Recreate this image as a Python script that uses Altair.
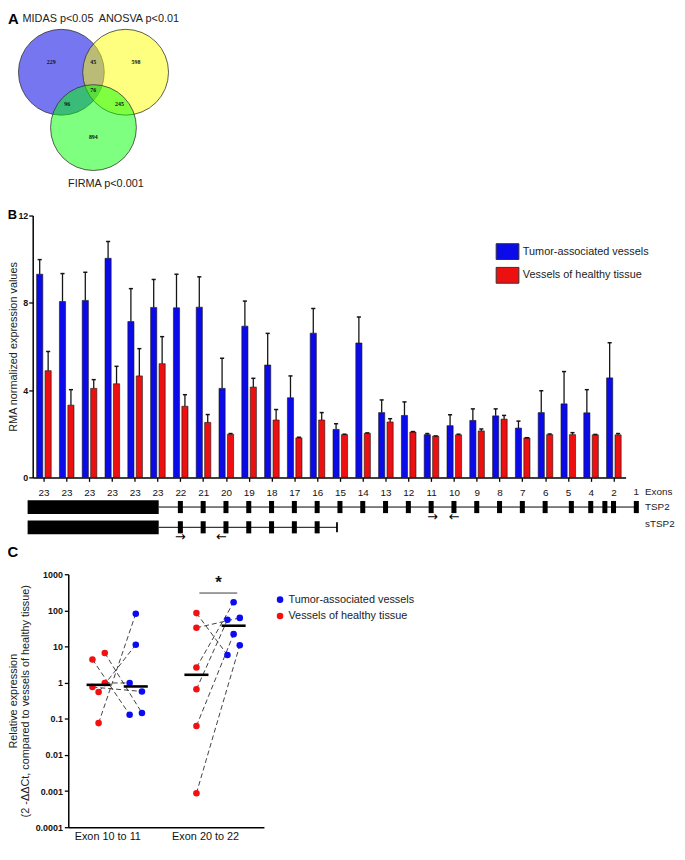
import altair as alt
import pandas as pd

W = 677
H = 838
FONT = "Liberation Sans"
T = "Tumor-associated vessels"
HV = "Vessels of healthy tissue"

# ---------------- Panel A : Venn ----------------
venn_names = ["MIDAS p<0.05", "ANOSVA p<0.01", "FIRMA p<0.001"]
venn_cx = [0.0, 1.327, 0.663]
venn_cy = [0.0, 0.0, -1.143]
venn_fill = ["#1A1AE6", "#FFFF00", "#00FF00"]
venn_opacity = [0.6, 0.5, 0.5]
venn_label_x = [-0.07, 1.6, 0.92]
venn_label_y = [1.1, 1.1, -2.31]
venn_counts = ["229", "45", "598", "76", "96", "245", "894"]
venn_count_x = [-0.21, 0.66, 1.54, 0.66, 0.12, 1.2, 0.66]
venn_count_y = [0.21, 0.21, 0.21, -0.37, -0.66, -0.66, -1.34]

# ---------------- Panel B : bars ----------------
exon_labels = ["23", "23", "23", "23", "23", "23", "22", "21", "20", "19", "18", "17", "16",
               "15", "14", "13", "12", "11", "10", "9", "8", "7", "6", "5", "4", "2"]
tumor_mean = [9.31, 8.06, 8.11, 10.04, 7.14, 7.79, 7.77, 7.80, 4.08, 6.93, 5.15, 3.65, 6.61,
              2.20, 6.16, 2.97, 2.84, 1.96, 2.37, 2.61, 2.82, 2.26, 2.97, 3.37, 2.96, 4.56]
tumor_err = [9.98, 9.34, 9.40, 10.81, 8.65, 9.07, 9.31, 9.19, 5.46, 8.08, 6.60, 4.65, 7.74,
             2.46, 7.35, 3.55, 3.46, 2.01, 2.87, 3.14, 3.14, 2.58, 3.97, 4.85, 4.02, 6.17]
healthy_mean = [4.89, 3.31, 4.08, 4.29, 4.65, 5.21, 3.26, 2.52, 1.98, 4.14, 2.63, 1.81, 2.63,
                1.96, 2.02, 2.54, 2.08, 1.89, 1.95, 2.13, 2.67, 1.81, 1.96, 1.96, 1.95, 1.95]
healthy_err = [5.77, 4.02, 4.48, 5.09, 5.90, 6.45, 3.79, 2.88, 2.01, 4.54, 3.11, 1.84, 2.97,
               1.98, 2.04, 2.69, 2.10, 1.90, 1.98, 2.22, 2.84, 1.82, 1.99, 2.05, 1.97, 2.01]

# gene structure (positions in exon-slot units of the bar axis)
gene_rows = ["TSP2", "sTSP2"]
big_exon = [-0.7, 5.05]
gene_line_end = [26.0, 12.87]
tsp2_exons = [6, 7, 8, 9, 10, 11, 12, 13, 14, 15, 16, 17, 18, 19, 20, 21, 22,
              23.15, 24.0, 24.62, 25.0, 26.0]
stsp2_exons = [6, 7, 8, 9, 10, 11, 12]
arrow_text = ["→", "←", "→", "←"]
arrow_x = [17.06, 18.01, 6.0, 7.8]
arrow_row = [0.5, 0.5, 1.5, 1.5]

# ---------------- Panel C : qPCR ----------------
c_groups = ["Exon 10 to 11", "Exon 20 to 22"]
red_g0 = [4.4, 6.6, 0.755, 0.55, 0.98, 0.076]
red_g0_jit = [-1, 1, -1, 0, 1, 0]
blue_g0 = [0.13, 0.145, 0.57, 11.2, 0.98, 81]
blue_g0_jit = [-1, 1, 1, 0, -1, 0]
red_g1 = [84, 33, 2.63, 0.655, 0.063, 0.00087]
red_g1_jit = [0, 0, 0, 0, 0, 0]
blue_g1 = [5.8, 62, 167, 55, 22, 10.8]
blue_g1_jit = [-1, 1, 0, -1, 0, 1]
median_red = [0.87, 1.65]
median_blue = [0.785, 37.6]
c_yticks = [1000, 100, 10, 1, 0.1, 0.01, 0.001, 0.0001]

# ================= scales =================
xV = alt.Scale(domain=[-1, 3], range=[5, 201], nice=False, zero=False)
yV = alt.Scale(domain=[-3, 1.5], range=[207, -13.5], nice=False, zero=False)
xB = alt.Scale(domain=[-0.477, 25.53], range=[25, 625], nice=False, zero=False)
yB = alt.Scale(domain=[0, 12], range=[470, 205], nice=False, zero=False)
yG = alt.Scale(domain=[0, 1], range=[500, 520.5], nice=False, zero=False)
xC = alt.Scale(domain=[0, 2], range=[61, 259], nice=False, zero=False)
yC = alt.Scale(type="log", domain=[0.0001, 1000], range=[824, 568], nice=False)

colB = alt.Scale(domain=[T, HV], range=["#0B0BEA", "#EC1010"])
colC = alt.Scale(domain=[T, HV], range=["#0B0BF2", "#F21010"])

label_expr_B = "[" + ",".join("'%s'" % l for l in exon_labels) + "][datum.value]"
axisBx = alt.Axis(orient="bottom", offset=470 - H, values=list(range(26)), labelExpr=label_expr_B,
                  tickSize=4, tickWidth=1.3, labelFontSize=10, labelPadding=6, labelFlush=False,
                  labelOverlap=False, domainWidth=1.5, title=None, grid=False)
axisBy = alt.Axis(orient="left", offset=-25, values=[0, 4, 8, 12], format="d", labelFontSize=9,
                  labelFontWeight="bold", tickSize=4, tickWidth=1.3, domainWidth=1.5, labelPadding=1,
                  grid=False, title="RMA normalized expression values", titleFontSize=11,
                  titleFontWeight="normal", titleX=-19, titleY=337.5, titleBaseline="middle")
label_expr_C = "[" + ",".join("'%s'" % g for g in c_groups) + "][floor(datum.value)]"
axisCx = alt.Axis(orient="bottom", offset=824 - H, values=[0.5, 1.5], labelExpr=label_expr_C,
                  ticks=False, labelFontSize=11, labelPadding=3, labelOffset=-10, labelFlush=False,
                  labelOverlap=False, domainWidth=1.5, title=None, grid=False)
axisCy = alt.Axis(orient="left", offset=-61, values=c_yticks, format="~g", labelFontSize=9,
                  labelFontWeight="bold", tickSize=4, tickWidth=1.3, domainWidth=1.5, labelPadding=2,
                  labelOverlap=False, grid=False,
                  title=["Relative expression", "(2 -ΔΔCt, compared to vessels of healthy tissue)"],
                  titleFontSize=11, titleFontWeight="normal", titleLineHeight=12,
                  titleX=-55, titleY=696, titleBaseline="middle")


def XV(f): return alt.X(f, type="quantitative", scale=xV, axis=None)
def YV(f): return alt.Y(f, type="quantitative", scale=yV, axis=None)
def XB(f): return alt.X(f, type="quantitative", scale=xB, axis=axisBx)
def YB(f): return alt.Y(f, type="quantitative", scale=yB, axis=axisBy)
def YG(f): return alt.Y(f, type="quantitative", scale=yG, axis=None)
def XC(f): return alt.X(f, type="quantitative", scale=xC, axis=axisCx)
def YC(f): return alt.Y(f, type="quantitative", scale=yC, axis=axisCy)


# ================= Panel A =================
df_circ = pd.DataFrame({"name": venn_names, "cx": venn_cx, "cy": venn_cy,
                        "fill": venn_fill, "op": venn_opacity})
circles = alt.Chart(df_circ).mark_circle(size=7543, opacity=1, stroke="#333333",
                                         strokeWidth=0.8, strokeOpacity=1).encode(
    x=XV("cx"), y=YV("cy"),
    color=alt.Color("fill:N", scale=None),
    fillOpacity=alt.FillOpacity("op:Q", scale=None))
df_vlab = pd.DataFrame({"name": venn_names, "x": venn_label_x, "y": venn_label_y})
venn_titles = alt.Chart(df_vlab).mark_text(fontSize=11, font=FONT, color="#222222").encode(
    x=XV("x"), y=YV("y"), text="name:N")
df_cnt = pd.DataFrame({"n": venn_counts, "x": venn_count_x, "y": venn_count_y})
venn_nums = alt.Chart(df_cnt).mark_text(fontSize=6, font="Liberation Serif", fontWeight="bold",
                                        color="#111111").encode(x=XV("x"), y=YV("y"), text="n:N")
df_A = pd.DataFrame({"t": ["A"], "x": [-0.99], "y": [1.1]})
letterA = alt.Chart(df_A).mark_text(fontSize=15, font=FONT, fontWeight="bold", color="black").encode(
    x=XV("x"), y=YV("y"), text="t:N")
panelA = alt.layer(circles, venn_titles, venn_nums, letterA)

# ================= Panel B =================
df_B = pd.DataFrame({"idx": list(range(26)) * 2, "series": [T] * 26 + [HV] * 26,
                     "mean": tumor_mean + healthy_mean, "err": tumor_err + healthy_err})
baseB = alt.Chart(df_B).transform_calculate(
    pos="datum.idx + (datum.series == '%s' ? -0.17 : 0.2)" % T,
    b0="datum.pos - 0.135", b1="datum.pos + 0.135",
    c0="datum.pos - 0.09", c1="datum.pos + 0.09")
bars = baseB.mark_bar(stroke="#141414", strokeWidth=0.6).encode(
    x=XB("b0"), x2="b1", y=YB("mean"), y2=alt.datum(0),
    color=alt.Color("series:N", scale=colB, sort=[T, HV],
                    legend=alt.Legend(orient="none", legendX=497, legendY=233, title=None,
                                      direction="vertical", padding=0,
                                      symbolType="M-1.4375,-1H1.4375V1H-1.4375Z", symbolSize=256,
                                      symbolStrokeColor="#333333", symbolStrokeWidth=1,
                                      symbolOpacity=1, labelFont=FONT, labelFontSize=11,
                                      labelOffset=7, rowPadding=3, labelColor="#222222")))
stems = baseB.mark_rule(color="#141414", strokeWidth=1.3).encode(x=XB("pos"), y=YB("mean"), y2="err")
caps = baseB.mark_rule(color="#141414", strokeWidth=1.5).encode(x=XB("c0"), x2="c1", y=YB("err"))
df_Bl = pd.DataFrame({"t": ["B"], "x": [-1.37], "y": [12.02]})
letterB = alt.Chart(df_Bl).mark_text(fontSize=13, font=FONT, fontWeight="bold", color="black").encode(
    x=XB("x"), y=YB("y"), text="t:N")
bar_part = alt.layer(bars, stems, caps, letterB)

df_lines = pd.DataFrame({"row": [0, 1], "x1": [big_exon[1]] * 2, "x2": gene_line_end})
g_lines = alt.Chart(df_lines).mark_rule(color="black", strokeWidth=1).encode(
    x=XB("x1"), x2="x2", y=YG("row"))
df_big = pd.DataFrame({"row": [0, 1], "x1": [big_exon[0]] * 2, "x2": [big_exon[1]] * 2})
g_big = alt.Chart(df_big).transform_calculate(y0="datum.row - 0.34", y1="datum.row + 0.34").mark_rect(
    color="black").encode(x=XB("x1"), x2="x2", y=YG("y0"), y2="y1")
df_ex = pd.DataFrame({"row": [0] * len(tsp2_exons) + [1] * len(stsp2_exons),
                      "p": tsp2_exons + stsp2_exons})
g_ex = alt.Chart(df_ex).transform_calculate(
    x0="datum.p - 0.11", x1="datum.p + 0.11", y0="datum.row - 0.3", y1="datum.row + 0.3").mark_rect(
    color="black").encode(x=XB("x0"), x2="x1", y=YG("y0"), y2="y1")
df_end = pd.DataFrame({"p": [gene_line_end[1]], "y0": [0.75], "y1": [1.25]})
g_end = alt.Chart(df_end).mark_rule(color="black", strokeWidth=1.8).encode(
    x=XB("p"), y=YG("y0"), y2="y1")
df_arr = pd.DataFrame({"t": arrow_text, "x": arrow_x, "row": arrow_row})
g_arr = alt.Chart(df_arr).mark_text(fontSize=13, font="DejaVu Sans", color="black").encode(
    x=XB("x"), y=YG("row"), text="t:N")
df_g1 = pd.DataFrame({"t": ["1"], "x": [26.0], "row": [-0.73]})
g_one = alt.Chart(df_g1).mark_text(fontSize=10, font=FONT, color="#222222").encode(
    x=XB("x"), y=YG("row"), text="t:N")
df_gl = pd.DataFrame({"t": ["Exons"] + gene_rows, "x": [26.38] * 3, "row": [-0.73, 0.0, 0.83]})
g_lab = alt.Chart(df_gl).mark_text(fontSize=10, font=FONT, align="left", color="#222222").encode(
    x=XB("x"), y=YG("row"), text="t:N")
gene_part = alt.layer(g_lines, g_big, g_ex, g_end, g_arr, g_one, g_lab)

panelB = alt.layer(bar_part, gene_part).resolve_scale(y="independent")

# ================= Panel C =================
n = len(red_g0)
df_pairs = pd.DataFrame({
    "group": [0] * n + [1] * n,
    "rv": red_g0 + red_g1, "rj": red_g0_jit + red_g1_jit,
    "bv": blue_g0 + blue_g1, "bj": blue_g0_jit + blue_g1_jit})
pair_lines = alt.Chart(df_pairs).transform_calculate(
    xr="datum.group + 0.5 - 0.19 + datum.rj * 0.063",
    xb="datum.group + 0.5 + 0.19 + datum.bj * 0.063").mark_rule(
    color="#111111", strokeWidth=0.8, strokeDash=[5, 3]).encode(
    x=XC("xr"), y=YC("rv"), x2="xb", y2="bv")

df_pts = pd.DataFrame({
    "group": [0] * n + [1] * n + [0] * n + [1] * n,
    "series": [HV] * (2 * n) + [T] * (2 * n),
    "v": red_g0 + red_g1 + blue_g0 + blue_g1,
    "j": red_g0_jit + red_g1_jit + blue_g0_jit + blue_g1_jit})
pts = alt.Chart(df_pts).transform_calculate(
    pos="datum.group + 0.5 + (datum.series == '%s' ? 0.19 : -0.19) + datum.j * 0.063" % T).mark_circle(
    size=44, opacity=1).encode(
    x=XC("pos"), y=YC("v"),
    color=alt.Color("series:N", scale=colC, sort=[T, HV],
                    legend=alt.Legend(orient="none", legendX=269.8, legendY=588.2, title=None,
                                      direction="vertical", padding=0, symbolType="circle",
                                      symbolSize=44, symbolStrokeWidth=0, symbolOpacity=1,
                                      labelFont=FONT, labelFontSize=11, labelOffset=3,
                                      rowPadding=4.6, labelColor="#222222")))
df_med = pd.DataFrame({"group": [0, 1, 0, 1], "series": [HV, HV, T, T],
                       "m": median_red + median_blue})
meds = alt.Chart(df_med).transform_calculate(
    pos="datum.group + 0.5 + (datum.series == '%s' ? 0.19 : -0.19)" % T,
    m0="datum.pos - 0.123", m1="datum.pos + 0.123").mark_rule(
    color="black", strokeWidth=2.6).encode(x=XC("m0"), x2="m1", y=YC("m"))
df_sig = pd.DataFrame({"x1": [1.34], "x2": [1.727], "y": [302]})
sig = alt.Chart(df_sig).mark_rule(color="#222222", strokeWidth=0.9).encode(
    x=XC("x1"), x2="x2", y=YC("y"))
df_star = pd.DataFrame({"t": ["*"], "x": [1.535], "y": [560]})
star = alt.Chart(df_star).mark_text(fontSize=17, font=FONT, fontWeight="bold", color="#111111").encode(
    x=XC("x"), y=YC("y"), text="t:N")
df_Cl = pd.DataFrame({"t": ["C"], "x": [-0.566], "y": [3990]})
letterC = alt.Chart(df_Cl).mark_text(fontSize=15, font=FONT, fontWeight="bold", color="black").encode(
    x=XC("x"), y=YC("y"), text="t:N")
panelC = alt.layer(pair_lines, pts, meds, sig, star, letterC)

chart = alt.layer(panelA, panelB, panelC).resolve_scale(
    x="independent", y="independent", color="independent"
).properties(
    width=W, height=H, padding=0, background="white",
    autosize=alt.AutoSizeParams(type="none")
).configure_view(stroke=None).configure_axis(
    labelFont=FONT, titleFont=FONT, domainColor="black", tickColor="black",
    labelColor="#111111", titleColor="#222222", grid=False
).configure_text(font=FONT)

chart.save("out.html", embed_options={"renderer": "svg", "actions": False})
